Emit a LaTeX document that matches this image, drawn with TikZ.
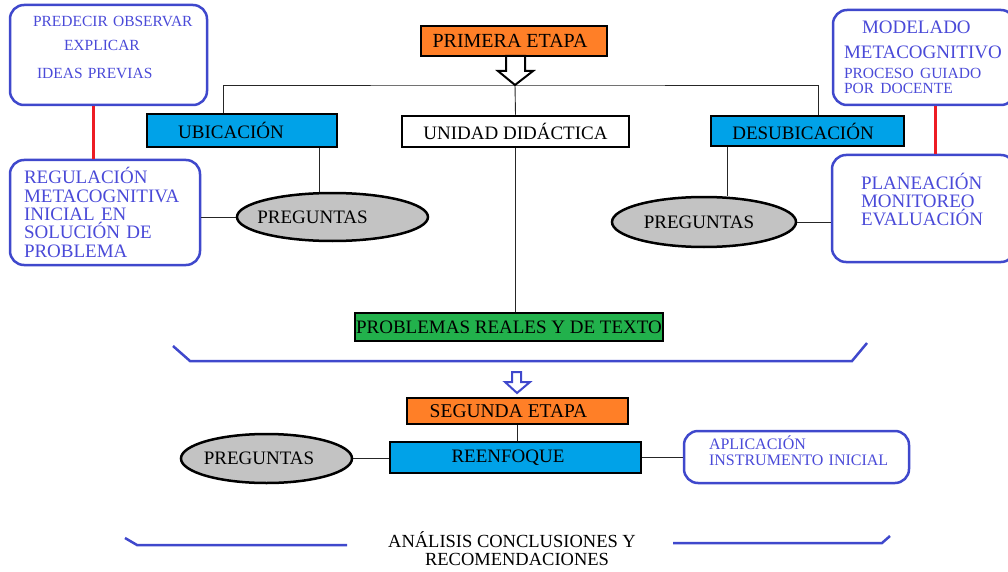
\documentclass[tikz,border=0pt]{standalone}
\usepackage{fontspec}
\setmainfont{Liberation Serif}
\usetikzlibrary{shapes.geometric,calc}
\definecolor{PNaranja}{HTML}{FF7F27}
\definecolor{PCeleste}{HTML}{00A2E8}
\definecolor{PVerde}{HTML}{22B14C}
\definecolor{PGris}{HTML}{C3C3C3}
\definecolor{PAzul}{HTML}{3F48CC}
\definecolor{PTexto}{HTML}{4A4AD8}
\definecolor{PRojo}{HTML}{ED1C24}
\newcommand{\letraG}{\fontsize{19}{18.3}\selectfont}
\newcommand{\letraM}{\fontsize{16}{16}\selectfont}
\newcommand{\letraC}{\fontsize{15.5}{16}\selectfont}
\tikzset{
    caja/.style = {draw, rectangle, line width=2.5pt, inner sep=0pt, font=\letraG},
    etapa/.style = {caja, fill=PNaranja},
    fase/.style = {caja, fill=PCeleste},
    preg/.style = {draw, ellipse, line width=2.5pt, fill=PGris, inner sep=0pt, font=\letraG},
    nota/.style = {draw=PAzul, rectangle, rounded corners=14pt, line width=2.5pt,
        text=PTexto, align=left, inner sep=0pt, font=\letraG},
    enlace/.style = {draw, line width=0.9pt, black!85},
    union/.style = {draw=PRojo, line width=3pt},
    llave/.style = {draw=PAzul, line width=2.5pt},
    hueca/.style = {draw, line width=2pt, fill=white, line join=miter}
}

\begin{document}
\begin{tikzpicture}[x=1pt, y=-1pt]
    \useasboundingbox (0,0) rectangle (1008,572);
    \node[etapa, minimum width=186pt, minimum height=30pt, font=\fontsize{20}{20}\selectfont] (primera) at (514,41) {PRIMERA ETAPA\hspace*{8pt}};
    \node[fase, minimum width=190pt, minimum height=33pt] (ubic) at (242,130.5) {UBICACIÓN\hspace*{22pt}};
    \node[caja, fill=white, minimum width=227pt, minimum height=31pt] (unidad) at (515.5,131.5) {UNIDAD DIDÁCTICA};
    \node[fase, minimum width=193pt, minimum height=30pt] (desub) at (807.5,131) {DESUBICACIÓN\hspace*{9pt}};
    \node[preg, minimum width=191pt, minimum height=48pt] (pregA) at (332.5,217) {\hspace*{-40pt}PREGUNTAS};
    \node[preg, minimum width=184pt, minimum height=50pt] (pregB) at (704,222) {\hspace*{-10pt}PREGUNTAS};
    \node[caja, fill=PVerde, minimum width=308pt, minimum height=28pt] (problemas) at (509,327) {PROBLEMAS REALES Y DE TEXTO};
    \node[etapa, minimum width=221pt, minimum height=26pt, font=\fontsize{19.5}{19.5}\selectfont] (segunda) at (517.5,411) {SEGUNDA ETAPA\hspace*{18pt}};
    \node[fase, minimum width=251pt, minimum height=31pt] (reenfoque) at (515.5,457.5) {REENFOQUE\hspace*{15pt}};
    \node[preg, minimum width=171pt, minimum height=49pt] (pregC) at (266.5,458.5) {\hspace*{-15pt}PREGUNTAS};

    \node[nota, minimum width=197pt, minimum height=100pt, text width=197pt, font=\letraC] (predecir) at (108.5,55)
        {\hspace*{23pt}PREDECIR OBSERVAR\\[8pt]\hspace*{54pt}EXPLICAR\\[12pt]\hspace*{27pt}IDEAS PREVIAS\\ \mbox{}};
    \node[nota, minimum width=190pt, minimum height=105pt, text width=162pt, inner xsep=14pt] (regulacion) at (105,212.5)
        {REGULACIÓN\\ METACOGNITIVA\\ INICIAL EN\\ SOLUCIÓN DE\\ PROBLEMA};
    \node[nota, minimum width=182pt, minimum height=95pt, text width=182pt] (modelado) at (924,57.5)
        {\hspace*{29pt}MODELADO\\[6pt]\hspace*{11pt}METACOGNITIVO\\[2pt]\hspace*{11pt}{\letraC PROCESO GUIADO}\\[-3pt]\hspace*{11pt}{\letraC POR DOCENTE}};
    \node[nota, minimum width=183pt, minimum height=107pt, text width=183pt] (planeacion) at (923.5,208.5)
        {\hspace*{29pt}PLANEACIÓN\\ \hspace*{29pt}MONITOREO\\ \hspace*{29pt}EVALUACIÓN\\ \mbox{}};
    \node[nota, minimum width=225pt, minimum height=52pt, text width=225pt, font=\letraM] (aplicacion) at (796.5,457)
        {\hspace*{25pt}APLICACIÓN\\ \hspace*{25pt}INSTRUMENTO INICIAL\\[-3pt]\mbox{}};

    \node[align=center, inner sep=0pt, font=\fontsize{18.5}{18}\selectfont] (cierre) at (512,549)
        {ANÁLISIS CONCLUSIONES Y\\ \hspace*{10pt}RECOMENDACIONES};

    \coordinate (rama) at (515,85);
    \draw[enlace] ([xshift=-19pt]ubic.north) |- (rama) -| ([xshift=10.5pt]desub.north);
    \draw[enlace] (rama) -- (unidad.north);
    \draw[hueca] (506,56) -- (506,71) -- (498,71) -- (rama) -- (533,71) -- (525,71) -- (525,56) -- cycle;
    \draw[enlace] ([xshift=77pt]ubic.south) -- ([xshift=77pt]ubic.south |- pregA.north);
    \draw[enlace] ([xshift=-80.5pt]desub.south) -- ([xshift=-80.5pt]desub.south |- pregB.north);
    \draw[enlace] (pregA.west) -- (pregA.west -| regulacion.east);
    \draw[enlace] (pregB.east) -- (pregB.east -| planeacion.west);
    \draw[enlace] (unidad.south) -- (unidad.south |- problemas.north);
    \draw[union] ([xshift=-15.5pt]predecir.south) -- ([xshift=-15.5pt]predecir.south |- regulacion.north);
    \draw[union] ([xshift=11pt]modelado.south) -- ([xshift=11pt]modelado.south |- planeacion.north);

    \draw[llave] (173,346) -- (190,361) -- (852,361) -- (867,343);
    \draw[hueca, draw=PAzul] (512,372) -- (512,382) -- (505,382) -- (517,393) -- (530,382) -- (521,382) -- (521,372) -- cycle;

    \draw[enlace] (segunda.south) -- (segunda.south |- reenfoque.north);
    \draw[enlace] (pregC.east) -- (pregC.east -| reenfoque.west);
    \draw[enlace] (reenfoque.east) -- (reenfoque.east -| aplicacion.west);
    \draw[llave] (125,538) -- (137,545) -- (347,545);
    \draw[llave] (673,543) -- (882,543) -- (890,536);
\end{tikzpicture}
\end{document}
